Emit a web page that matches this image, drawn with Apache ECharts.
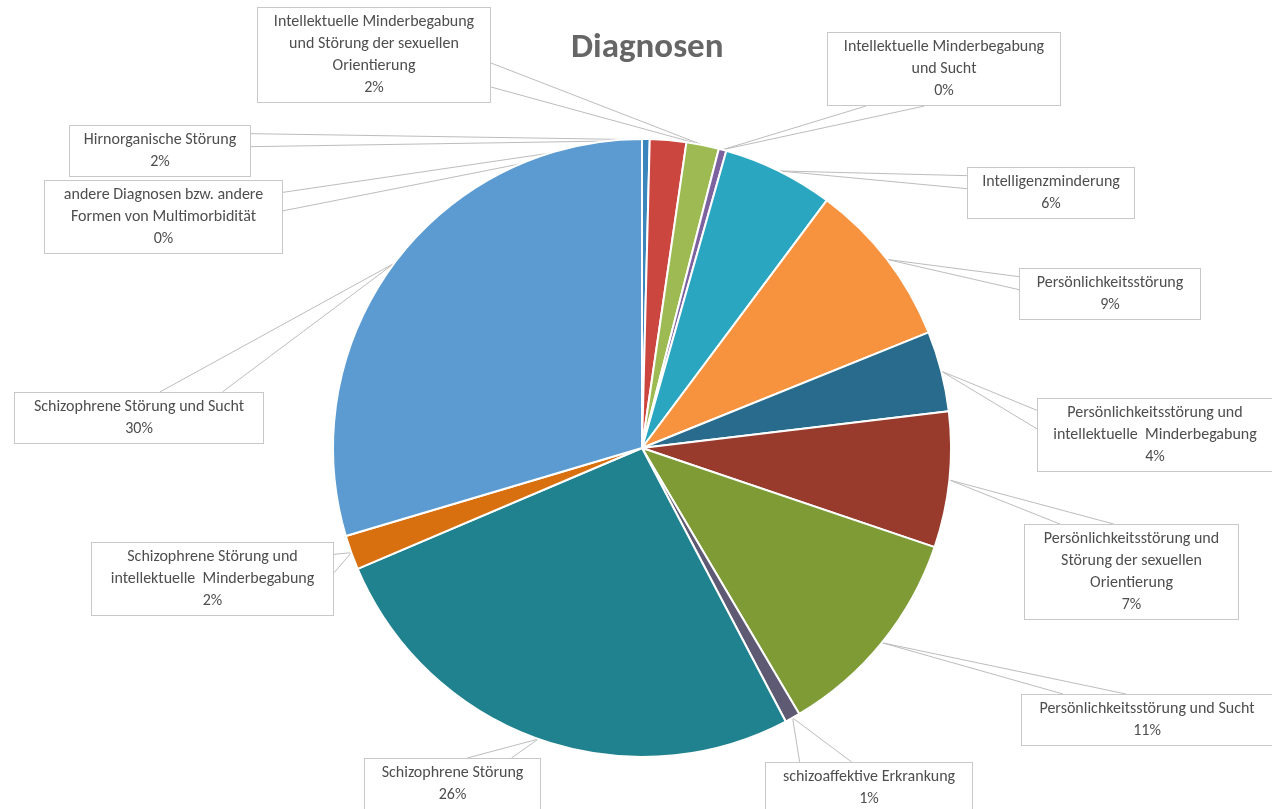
<!DOCTYPE html>
<html>
<head>
<meta charset="utf-8">
<title>Diagnosen</title>
<script src="https://cdn.jsdelivr.net/npm/echarts@6/dist/echarts.min.js"></script>
<style>
  html, body { margin: 0; padding: 0; background: #ffffff; }
  #chart { width: 1272px; height: 809px; }
</style>
</head>
<body>
<div id="chart"></div>
<script>
// Diagnosis groups, in the order the slices run clockwise from 12 o'clock
const categories = [
  'andere Diagnosen bzw. andere Formen von Multimorbidität',
  'Hirnorganische Störung',
  'Intellektuelle Minderbegabung und Störung der sexuellen Orientierung',
  'Intellektuelle Minderbegabung und Sucht',
  'Intelligenzminderung',
  'Persönlichkeitsstörung',
  'Persönlichkeitsstörung und intellektuelle Minderbegabung',
  'Persönlichkeitsstörung und Störung der sexuellen Orientierung',
  'Persönlichkeitsstörung und Sucht',
  'schizoaffektive Erkrankung',
  'Schizophrene Störung',
  'Schizophrene Störung und intellektuelle Minderbegabung',
  'Schizophrene Störung und Sucht'
];

// Share of each diagnosis group in percent
const shares = [0.4, 1.9, 1.7, 0.4, 5.8, 8.7, 4.2, 7.1, 11.3, 0.8, 26.3, 1.8, 29.6];

// How each callout wraps its category name
const labelLines = [
  ['andere Diagnosen bzw. andere', 'Formen von Multimorbidität'],
  ['Hirnorganische Störung'],
  ['Intellektuelle Minderbegabung', 'und Störung der sexuellen', 'Orientierung'],
  ['Intellektuelle Minderbegabung', 'und Sucht'],
  ['Intelligenzminderung'],
  ['Persönlichkeitsstörung'],
  ['Persönlichkeitsstörung und', 'intellektuelle  Minderbegabung'],
  ['Persönlichkeitsstörung und', 'Störung der sexuellen', 'Orientierung'],
  ['Persönlichkeitsstörung und Sucht'],
  ['schizoaffektive Erkrankung'],
  ['Schizophrene Störung'],
  ['Schizophrene Störung und', 'intellektuelle  Minderbegabung'],
  ['Schizophrene Störung und Sucht']
];

const sliceColors = [
  '#3a86bd', '#cc4640', '#9dbb52', '#7d62a0', '#2aa6c1', '#f7923f',
  '#286b8c', '#983b2d', '#7e9b35', '#5f5a74', '#20828f', '#d8700f', '#5b9bd1'
];

// Callout boxes: [left, top, width, height] in pixels
const calloutBoxes = [
  [45, 180, 237, 74],
  [70, 126, 180, 50],
  [258, 8, 232, 94],
  [828, 33, 232, 72],
  [968, 168, 166, 50],
  [1020, 268, 180, 52],
  [1038, 398, 234, 74],
  [1025, 525, 213, 94],
  [1022, 694, 250, 52],
  [766, 763, 206, 50],
  [365, 758, 175, 52],
  [92, 542, 241, 74],
  [15, 393, 248, 50]
];

const FONT = 'Carlito, Lato, "Liberation Sans", sans-serif';
const PAD_H = 4;

const chart = echarts.init(document.getElementById('chart'), null, { renderer: 'canvas' });

const seriesData = categories.map(function (name, i) {
  return {
    name: name,
    value: shares[i],
    itemStyle: { color: sliceColors[i] },
    label: { width: calloutBoxes[i][2] - 2 * PAD_H }
  };
});

// Callout wedge: two lines from the box side facing the slice to the slice tip
function wedgePoints(tip, left, top, w, h) {
  const cx = left + w / 2, cy = top + h / 2;
  const dx = tip[0] - cx, dy = tip[1] - cy;
  let e1, e2;
  if (Math.abs(dx) * h > Math.abs(dy) * w) {
    const sx = dx > 0 ? left + w : left;
    const f = dy < 0 ? [2 / 12, 5 / 12] : [7 / 12, 10 / 12];
    e1 = [sx, top + h * f[0]];
    e2 = [sx, top + h * f[1]];
  } else {
    const sy = dy > 0 ? top + h : top;
    const f = dx < 0 ? [2 / 12, 5 / 12] : [7 / 12, 10 / 12];
    e1 = [left + w * f[0], sy];
    e2 = [left + w * f[1], sy];
  }
  return [e1, tip, e2];
}

chart.setOption({
  animation: false,
  backgroundColor: '#ffffff',
  title: {
    text: 'Diagnosen',
    left: 566,
    top: 26,
    textStyle: {
      fontFamily: FONT,
      fontSize: 35,
      fontWeight: 'bold',
      color: '#666666'
    }
  },
  series: [{
    type: 'pie',
    center: [642, 448],
    radius: [0, 309],
    startAngle: 90,
    clockwise: true,
    avoidLabelOverlap: false,
    data: seriesData,
    itemStyle: { borderColor: '#ffffff', borderWidth: 2 },
    label: {
      show: true,
      position: 'outside',
      fontFamily: FONT,
      fontSize: 16,
      lineHeight: 22,
      color: '#4e4e4e',
      align: 'center',
      backgroundColor: '#ffffff',
      borderColor: '#c8c8c8',
      borderWidth: 1,
      padding: [3, PAD_H],
      overflow: 'none',
      formatter: function (p) {
        return labelLines[p.dataIndex].join('\n') + '\n' + Math.round(p.percent) + '%';
      }
    },
    labelLine: {
      show: true,
      length: 10,
      length2: 10,
      lineStyle: { color: '#bdbdbd', width: 1 }
    },
    labelLayout: function (p) {
      const b = calloutBoxes[p.dataIndex];
      const w = p.labelRect.width, h = p.labelRect.height;
      const cx = b[0] + b[2] / 2, cy = b[1] + b[3] / 2;
      const left = cx - w / 2, top = cy - h / 2;
      const tip = p.labelLinePoints ? p.labelLinePoints[0] : [cx, cy];
      return {
        x: cx,
        y: cy,
        align: 'center',
        verticalAlign: 'middle',
        labelLinePoints: wedgePoints(tip, left, top, w, h)
      };
    }
  }]
});
</script>
</body>
</html>
